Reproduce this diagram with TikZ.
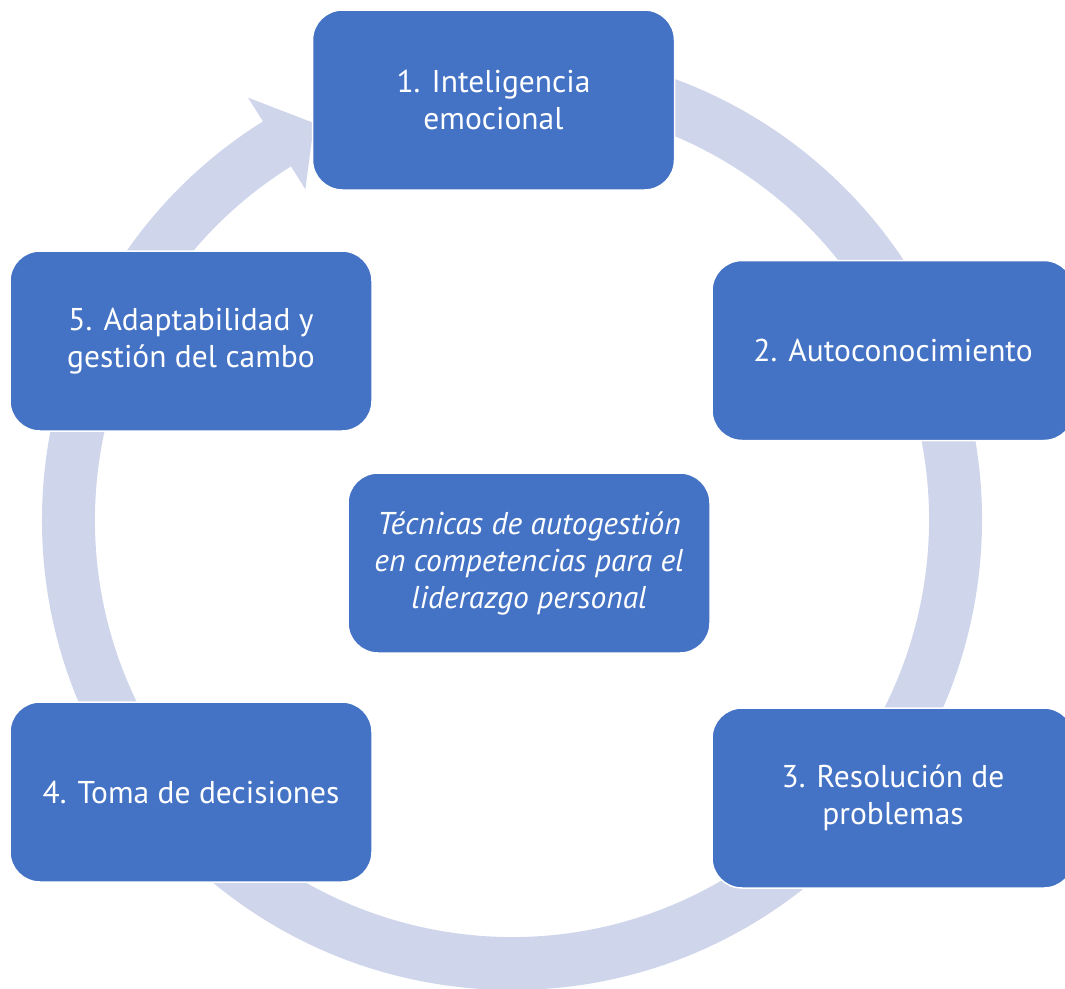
\documentclass[tikz,border=0pt]{standalone}
\usepackage{fontspec}
\setmainfont{PT Sans}
\usetikzlibrary{calc}
\definecolor{boxblue}{HTML}{4472C4}
\definecolor{ringcol}{HTML}{CFD5EA}
\begin{document}
\begin{tikzpicture}[x=1pt,y=1pt,
  stagebox/.style={fill=boxblue, draw=white, line width=1.5pt, rounded corners=30pt,
    minimum width=362pt, minimum height=180pt, text=white, align=center,
    font=\fontsize{31.5}{37}\selectfont, inner sep=0pt},
  ringshape/.style={fill=ringcol, draw=none}]
\useasboundingbox (0,0) rectangle (1065,-988);
\clip (0,0) rectangle (1065,-988);
\coordinate (C) at (512,-520);
% circular arrow
\fill[ringshape] ([shift={(C)}]85:470) arc[start angle=85, end angle=-238, radius=470pt]
  -- ([shift={(C)}]122:498) -- ([shift={(C)}]116.5:443.5) -- ([shift={(C)}]122:390)
  -- ([shift={(C)}]122:417) arc[start angle=-238, end angle=85, radius=417pt] -- cycle;
% boxes
\node[stagebox] (b1) at (493.5,-100) {1. Inteligencia\\emocional};
\node[stagebox] (b2) at (893,-350.5) {2. Autoconocimiento};
\node[stagebox] (b3) at (893,-798) {3. Resolución de\\problemas};
\node[stagebox] (b4) at (191,-792) {4. Toma de decisiones};
\node[stagebox] (b5) at (191,-341) {5. Adaptabilidad y\\gestión del cambo};
\node[stagebox, font=\fontsize{31.5}{37}\selectfont\itshape] (c) at (529,-563) {Técnicas de autogestión\\en competencias para el\\liderazgo personal};
\end{tikzpicture}
\end{document}
